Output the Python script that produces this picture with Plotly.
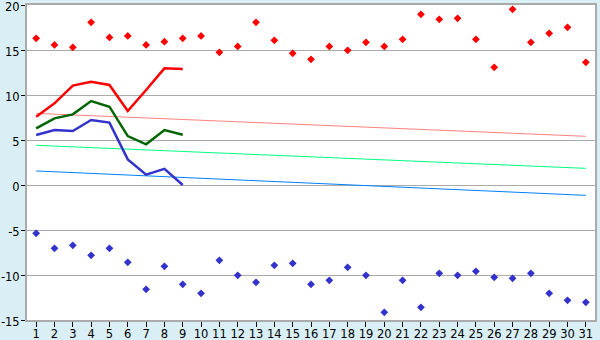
import plotly.graph_objects as go

days = list(range(1, 32))

max_points = [16.3, 15.56, 15.3, 18.07, 16.4, 16.56, 15.56, 15.93, 16.3, 16.56,
              14.74, 15.4, 18.07, 16.07, 14.63, 13.96, 15.4, 14.96, 15.85, 15.4,
              16.19, 18.96, 18.41, 18.52, 16.19, 13.07, 19.52, 15.85, 16.85, 17.52, 13.63]
min_points = [-5.37, -7.04, -6.7, -7.81, -7.04, -8.59, -11.59, -9.04, -11.04, -12.04,
              -8.37, -10.04, -10.81, -8.93, -8.7, -11.04, -10.59, -9.15, -10.04, -14.15,
              -10.59, -13.59, -9.81, -10.04, -9.59, -10.26, -10.37, -9.81, -12.04, -12.81, -13.04]

line_days = list(range(1, 10))
max_line = [7.59, 9.07, 11.04, 11.48, 11.11, 8.22, 10.56, 12.96, 12.89]
mean_line = [6.3, 7.41, 7.85, 9.33, 8.7, 5.44, 4.52, 6.11, 5.59]
min_line = [5.56, 6.11, 6.0, 7.22, 6.93, 2.85, 1.15, 1.8, 0.0]

trend_days = [1, 31]
max_trend = [7.96, 5.41]
mean_trend = [4.41, 1.85]
min_trend = [1.56, -1.15]

y_ticks = [-15, -10, -5, 0, 5, 10, 15, 20]
y_labels = ["-15", "-10", "-5", "0", "5", "10", "15", "20"]

fig = go.Figure()

fig.add_trace(go.Scatter(x=trend_days, y=max_trend, mode="lines",
                         line=dict(color="#FF8080", width=1), hoverinfo="skip"))
fig.add_trace(go.Scatter(x=trend_days, y=mean_trend, mode="lines",
                         line=dict(color="#00FF80", width=1), hoverinfo="skip"))
fig.add_trace(go.Scatter(x=trend_days, y=min_trend, mode="lines",
                         line=dict(color="#0080FF", width=1), hoverinfo="skip"))

fig.add_trace(go.Scatter(x=line_days, y=max_line, mode="lines",
                         line=dict(color="#FF0000", width=2.5)))
fig.add_trace(go.Scatter(x=line_days, y=mean_line, mode="lines",
                         line=dict(color="#006400", width=2.5)))
fig.add_trace(go.Scatter(x=line_days, y=min_line, mode="lines",
                         line=dict(color="#3333CC", width=2.5)))

fig.add_trace(go.Scatter(x=days, y=max_points, mode="markers",
                         marker=dict(symbol="diamond", size=6, color="#FF0000")))
fig.add_trace(go.Scatter(x=days, y=min_points, mode="markers",
                         marker=dict(symbol="diamond", size=6, color="#3333CC")))

fig.update_layout(
    width=600, height=340,
    margin=dict(l=27, r=5, t=5, b=20),
    paper_bgcolor="#D9EFF5",
    plot_bgcolor="#FFFFFF",
    showlegend=False,
    font=dict(family="DejaVu Sans", size=12, color="#000000"),
    xaxis=dict(
        range=[0.5, 31.5], tickmode="array", tickvals=days,
        ticktext=[str(d) for d in days],
        showgrid=False, zeroline=False, automargin=False,
        showline=True, mirror=True, linecolor="#AAAAAA", linewidth=2,
        ticks="outside", ticklen=5, tickcolor="#000000", tickwidth=1,
        ticklabelstandoff=-3, ticklabeloverflow="allow",
        tickfont=dict(size=11.5),
    ),
    yaxis=dict(
        range=[-15, 20], tickmode="array", tickvals=y_ticks, ticktext=y_labels,
        showgrid=True, gridcolor="#AAAAAA", gridwidth=1,
        zeroline=False, automargin=False,
        showline=True, mirror=True, linecolor="#AAAAAA", linewidth=2,
        ticks="outside", ticklen=4, tickcolor="#000000", tickwidth=1,
        ticklabelstandoff=-1, ticklabeloverflow="allow", ticklabelshift=2,
        tickfont=dict(size=11.5),
    ),
)

fig.write_html("out.html")
